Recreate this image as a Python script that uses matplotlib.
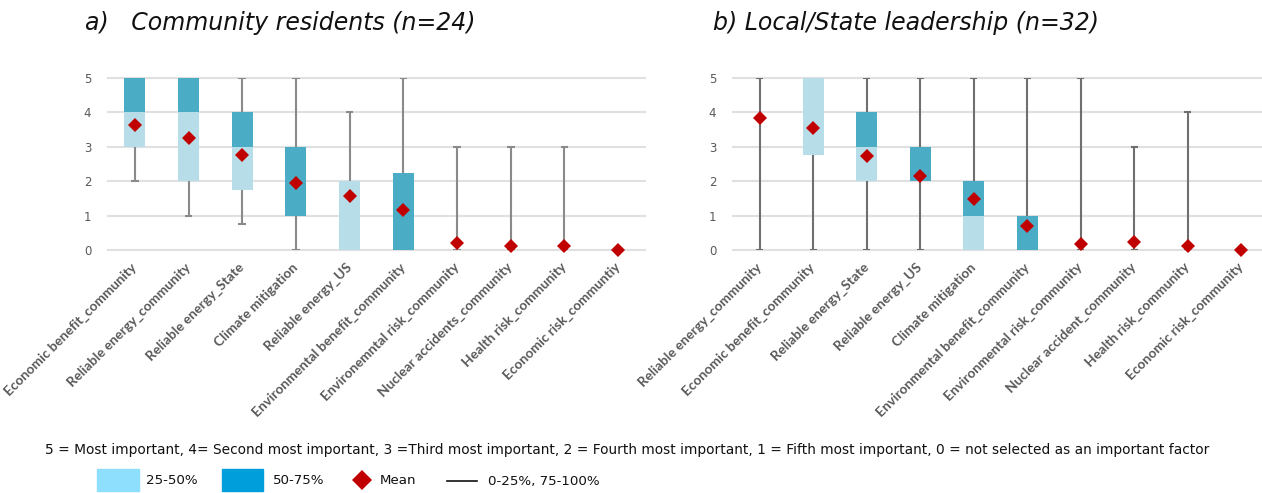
import matplotlib
matplotlib.use("Agg")
import matplotlib.pyplot as plt
from matplotlib.patches import Rectangle
from matplotlib.lines import Line2D

# ---- data: community residents (n=24) ----
cats_a = ["Economic benefit_community", "Reliable energy_community", "Reliable energy_State",
          "Climate mitigation", "Reliable energy_US", "Environmental benefit_community",
          "Environemntal risk_community", "Nuclear accidents_community", "Health risk_community",
          "Economic risk_communtiy"]
min_a = [2, 1, 0.75, 0, 0, 0, 0, 0, 0, 0]
q1_a = [3, 2, 1.75, 1, 0, 0, 0, 0, 0, 0]
med_a = [4, 4, 3, 1, 2, 0, 0, 0, 0, 0]
q3_a = [5, 5, 4, 3, 2, 2.25, 0, 0, 0, 0]
max_a = [5, 5, 5, 5, 4, 5, 3, 3, 3, 0]
mean_a = [3.62, 3.25, 2.75, 1.96, 1.58, 1.17, 0.21, 0.13, 0.13, 0.0]

# ---- data: local/state leadership (n=32) ----
cats_b = ["Reliable energy_community", "Economic benefit_community", "Reliable energy_State",
          "Reliable energy_US", "Climate mitigation", "Environmental benefit_community",
          "Environmental risk_community", "Nuclear accident_community", "Health risk_community",
          "Economic risk_community"]
min_b = [0, 0, 0, 0, 0, 0, 0, 0, 0, 0]
q1_b = [5, 2.75, 2, 2, 0, 0, 0, 0, 0, 0]
med_b = [5, 5, 3, 2, 1, 0, 0, 0, 0, 0]
q3_b = [5, 5, 4, 3, 2, 1, 0, 0, 0, 0]
max_b = [5, 5, 5, 5, 5, 5, 5, 3, 4, 0]
mean_b = [3.84, 3.56, 2.72, 2.16, 1.47, 0.69, 0.16, 0.22, 0.13, 0.0]

yticks = [0, 1, 2, 3, 4, 5]

LIGHT = "#b7dee8"
DARK = "#4bacc6"
RED = "#c00000"
GRID = "#e0e0e0"
TXT = "#595959"

W, H = 1262, 493
fig = plt.figure(figsize=(W / 100, H / 100), dpi=100)


def px_axes(x0, x1, ytop, ybot):
    return fig.add_axes([x0 / W, 1 - ybot / H, (x1 - x0) / W, (ybot - ytop) / H])


def draw_panel(ax, cats, mn, q1, med, q3, mx, mean, wcolor):
    n = len(cats)
    xs = list(range(n))
    bw = 0.39
    for x, lo, a, m, b, hi in zip(xs, mn, q1, med, q3, mx):
        if hi > lo:
            ax.plot([x, x], [lo, hi], color=wcolor, lw=1.5, zorder=2, solid_capstyle="butt")
            for v in (lo, hi):
                ax.plot([x - 0.07, x + 0.07], [v, v], color=wcolor, lw=1.5, zorder=2,
                        solid_capstyle="butt")
        if m > a:
            ax.bar(x, m - a, bottom=a, width=bw, color=LIGHT, zorder=3)
        if b > m:
            ax.bar(x, b - m, bottom=m, width=bw, color=DARK, zorder=3)
    ax.plot(xs, mean, linestyle="none", marker="D", ms=7.5, color=RED, mec=RED, mew=0,
            zorder=5, clip_on=False)
    ax.set_xlim(-0.5, n - 0.5)
    ax.set_ylim(0, 5)
    ax.set_yticks(yticks)
    ax.set_yticklabels([str(t) for t in yticks], color=TXT, fontsize=8.5,
                       family="DejaVu Sans")
    ax.set_xticks(xs)
    ax.set_xticklabels(cats, rotation=45, ha="right", va="center", rotation_mode="anchor",
                       color=TXT, fontsize=9.8, fontweight="bold", family="Lato")
    ax.tick_params(axis="both", length=0)
    ax.tick_params(axis="y", pad=12)
    ax.tick_params(axis="x", pad=11)
    for s in ax.spines.values():
        s.set_visible(False)
    ax.set_axisbelow(True)
    ax.grid(axis="y", color=GRID, lw=1.5, clip_on=False)
    for gl in ax.get_ygridlines():
        gl.set_clip_on(False)


ax_a = px_axes(108, 645, 78, 250)
draw_panel(ax_a, cats_a, min_a, q1_a, med_a, q3_a, max_a, mean_a, "#8a8a8a")
ax_b = px_axes(733, 1268, 78, 250)
draw_panel(ax_b, cats_b, min_b, q1_b, med_b, q3_b, max_b, mean_b, "#6f6f6f")

# panel titles
fig.text(85 / W, 1 - 23 / H, "a)   Community residents (n=24)", fontsize=17, style="italic",
         family="DejaVu Sans", va="center", ha="left", color="#111111")
fig.text(713 / W, 1 - 23 / H, "b) Local/State leadership (n=32)", fontsize=17, style="italic",
         family="DejaVu Sans", va="center", ha="left", color="#111111")

# overlay in pixel coordinates for the footnote and legend
ov = fig.add_axes([0, 0, 1, 1])
ov.set_xlim(0, W)
ov.set_ylim(H, 0)
ov.axis("off")

ov.text(45, 450, "5 = Most important, 4= Second most important, 3 =Third most important, "
        "2 = Fourth most important, 1 = Fifth most important, 0 = not selected as an important factor",
        fontsize=9.9, family="DejaVu Sans", va="center", ha="left", color="#111111")

ov.add_patch(Rectangle((97, 469), 42, 22, color="#8ddffd"))
ov.text(146, 480, "25-50%", fontsize=9.6, family="DejaVu Sans", va="center", color="#111111")
ov.add_patch(Rectangle((222, 469), 41, 22, color="#009fdb"))
ov.text(273, 480, "50-75%", fontsize=9.6, family="DejaVu Sans", va="center", color="#111111")
ov.plot([362], [480], marker="D", ms=10, color=RED, mew=0)
ov.text(380, 481, "Mean", fontsize=9.6, family="DejaVu Sans", va="center", color="#111111")
ov.add_line(Line2D([447, 477], [481, 481], color="#111111", lw=1.2))
ov.text(488, 481, "0-25%, 75-100%", fontsize=9.6, family="DejaVu Sans", va="center",
        color="#111111")

fig.savefig("out.png", dpi=100)
